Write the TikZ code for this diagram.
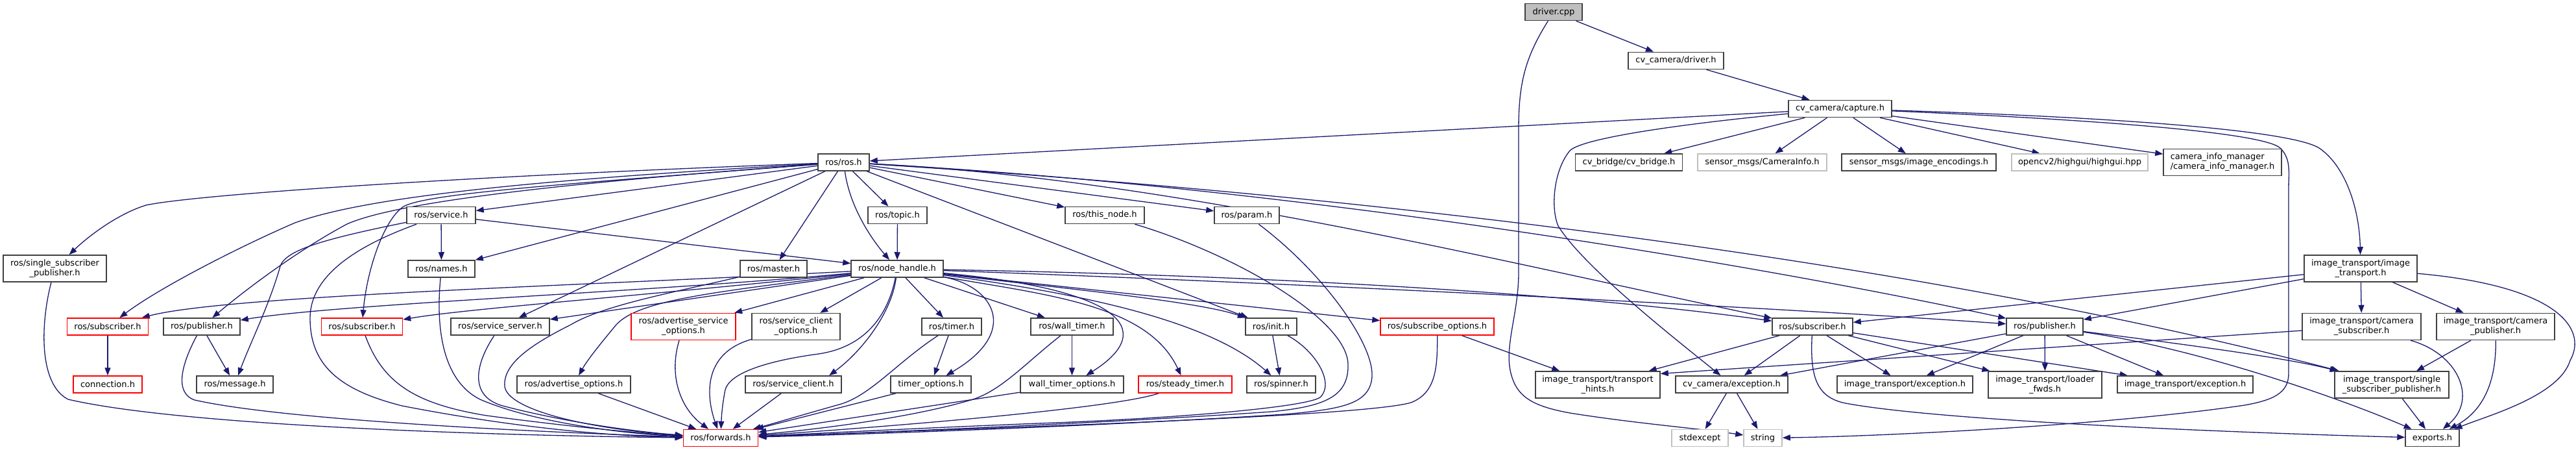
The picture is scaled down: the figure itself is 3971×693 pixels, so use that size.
\documentclass[tikz,border=0pt]{standalone}
\usepackage{fontspec}
\setmainfont{DejaVu Sans}
\usetikzlibrary{arrows.meta}
\definecolor{mblue}{HTML}{191970}
\definecolor{bdr}{HTML}{404040}
\definecolor{gbd}{HTML}{BFBFBF}
\pgfdeclarelayer{bg}
\pgfsetlayers{bg,main}
\begin{document}
\begin{tikzpicture}[x=1pt,y=-1pt,
 bx/.style={draw=bdr, line width=1.5pt, inner sep=2pt, minimum height=26pt, align=center, font=\fontsize{13}{15}\selectfont, text=black, fill=white},
 two/.style={minimum height=41pt},
 rb/.style={bx, draw=red},
 gb/.style={bx, draw=gbd},
 db/.style={bx, fill=gbd},
 ln/.style={draw=mblue, line width=1.3pt, -{Triangle[length=12pt,width=9pt]}}]
\useasboundingbox (0,0) rectangle (3971,693);
% nodes
\node[db, minimum width=88pt] (drv) at (2395,18.5) {driver.cpp};
\node[bx, minimum width=147pt] (dh) at (2583.5,93.5) {cv\_camera/driver.h};
\node[bx, minimum width=159pt] (cap) at (2836.5,167.5) {cv\_camera/capture.h};
\node[bx, minimum width=79pt] (ros) at (1300.5,250) {ros/ros.h};
\node[bx, minimum width=165pt] (cvb) at (2511,250) {cv\_bridge/cv\_bridge.h};
\node[gb, minimum width=199pt] (caminfo) at (2716.5,250) {sensor\_msgs/CameraInfo.h};
\node[bx, minimum width=238pt] (enc) at (2958,250) {sensor\_msgs/image\_encodings.h};
\node[gb, minimum width=210pt] (hg) at (3206,250) {opencv2/highgui/highgui.hpp};
\node[bx, two, minimum width=182pt, align=left] (cim) at (3426,250) {camera\_info\_manager\\/camera\_info\_manager.h};
\node[bx, minimum width=106pt] (svc) at (680,331.5) {ros/service.h};
\node[bx, minimum width=91pt] (topic) at (1383.5,331.5) {ros/topic.h};
\node[bx, minimum width=122pt] (thisnode) at (1703,331.5) {ros/this\_node.h};
\node[bx, minimum width=100pt] (param) at (1922,331.5) {ros/param.h};
\node[bx, two, minimum width=159pt] (ssp) at (84.5,413.5) {ros/single\_subscriber\\\_publisher.h};
\node[bx, minimum width=103pt] (names) at (680.5,414) {ros/names.h};
\node[bx, minimum width=103pt] (master) at (1192.5,414) {ros/master.h};
\node[bx, minimum width=142pt] (nh) at (1383,414) {ros/node\_handle.h};
\node[bx, two, minimum width=174pt] (itr) at (3639,413.5) {image\_transport/image\\\_transport.h};
\node[rb, minimum width=125pt] (subL1) at (166,503) {ros/subscriber.h};
\node[bx, minimum width=118pt] (pubL) at (311,503) {ros/publisher.h};
\node[rb, minimum width=125pt] (subL2) at (558,503) {ros/subscriber.h};
\node[bx, minimum width=152pt] (ss) at (771,503) {ros/service\_server.h};
\node[rb, two, minimum width=161pt] (aso) at (1053.5,503) {ros/advertise\_service\\\_options.h};
\node[bx, two, minimum width=136pt] (sco) at (1227,503) {ros/service\_client\\\_options.h};
\node[bx, minimum width=92pt] (timer) at (1467,503) {ros/timer.h};
\node[bx, minimum width=127pt] (wt) at (1652.5,503) {ros/wall\_timer.h};
\node[bx, minimum width=79pt] (init) at (1959.5,503) {ros/init.h};
\node[rb, minimum width=175pt] (so) at (2215.5,503) {ros/subscribe\_options.h};
\node[bx, minimum width=124pt] (subR) at (2794,503) {ros/subscriber.h};
\node[bx, minimum width=118pt] (pubR) at (3152,503) {ros/publisher.h};
\node[bx, two, minimum width=183pt] (csub) at (3640.5,503) {image\_transport/camera\\\_subscriber.h};
\node[bx, two, minimum width=182pt] (cpub) at (3847,503) {image\_transport/camera\\\_publisher.h};
\node[rb, minimum width=106pt] (conn) at (166,592) {connection.h};
\node[bx, minimum width=118pt] (msg) at (362,592) {ros/message.h};
\node[bx, minimum width=175pt] (ao) at (884.5,592) {ros/advertise\_options.h};
\node[bx, minimum width=148pt] (sc) at (1223,592) {ros/service\_client.h};
\node[bx, minimum width=124pt] (to) at (1435,592) {timer\_options.h};
\node[bx, minimum width=159pt] (wto) at (1652.5,592) {wall\_timer\_options.h};
\node[rb, minimum width=144pt] (st) at (1827,592) {ros/steady\_timer.h};
\node[bx, minimum width=106pt] (spin) at (1975,592) {ros/spinner.h};
\node[bx, two, minimum width=192pt] (th) at (2463,592.5) {image\_transport/transport\\\_hints.h};
\node[bx, minimum width=173pt] (cvexc) at (2669.5,592) {cv\_camera/exception.h};
\node[bx, minimum width=209pt] (itexc1) at (2936.5,592) {image\_transport/exception.h};
\node[bx, two, minimum width=175pt] (lf) at (3152.5,592.5) {image\_transport/loader\\\_fwds.h};
\node[bx, minimum width=209pt] (itexc2) at (3368.5,592) {image\_transport/exception.h};
\node[bx, two, minimum width=176pt] (itssp) at (3687,592.5) {image\_transport/single\\\_subscriber\_publisher.h};
\node[rb, minimum width=115pt] (fwd) at (1111,674.5) {ros/forwards.h};
\node[gb, minimum width=87pt] (stdexc) at (2620.5,674.5) {stdexcept};
\node[gb, minimum width=59pt] (str) at (2717.5,674.5) {string};
\node[bx, minimum width=83pt] (exp) at (3749.5,674.5) {exports.h};
\begin{pgfonlayer}{bg}
\fill[white] (0,0) rectangle (3971,693);
% driver / capture
\draw[ln] (drv) -- (dh);
\draw[ln] (drv) .. controls (2350,90) and (2341,130) .. (2341,200) -- (2341,420) .. controls (2341,480) and (2320,530) .. (2328,570) .. controls (2336,610) and (2360,625) .. (2420,636) .. controls (2520,652) and (2620,660) .. (str);
\draw[ln] (dh) -- (cap);
\draw[ln] (cap) -- (ros);
\draw[ln] (cap) -- (cvb);
\draw[ln] (cap) -- (caminfo);
\draw[ln] (cap) -- (enc);
\draw[ln] (cap) -- (hg);
\draw[ln] (cap) -- (cim);
\draw[ln] (cap) .. controls (3250,180) and (3530,200) .. (3575,228) .. controls (3615,255) and (3637,320) .. (itr);
\draw[ln] (cap) .. controls (3250,185) and (3490,205) .. (3515,228) .. controls (3532,245) and (3528,265) .. (3528,290) -- (3528,575) .. controls (3528,605) and (3505,616) .. (3460,624) .. controls (3250,655) and (2900,672) .. (str);
\draw[ln] (cap) .. controls (2600,190) and (2440,212) .. (2420,232) .. controls (2395,262) and (2390,320) .. (2402,348) .. controls (2440,410) and (2580,520) .. (cvexc);
% ros.h
\draw[ln] (ros) .. controls (700,272) and (300,300) .. (225,316) .. controls (180,330) and (135,365) .. (ssp);
\draw[ln] (ros) .. controls (800,278) and (560,305) .. (455,343) .. controls (380,375) and (250,440) .. (subL1);
\draw[ln] (ros) .. controls (850,283) and (610,312) .. (535,345) .. controls (460,385) and (380,445) .. (pubL);
\draw[ln] (ros) .. controls (850,285) and (660,298) .. (622,318) .. controls (590,340) and (565,420) .. (subL2);
\draw[ln] (ros) -- (svc);
\draw[ln] (ros) -- (names);
\draw[ln] (ros) -- (ss);
\draw[ln] (ros) -- (master);
\draw[ln] (ros) .. controls (1310,320) and (1345,370) .. (nh);
\draw[ln] (ros) -- (topic);
\draw[ln] (ros) -- (init);
\draw[ln] (ros) -- (thisnode);
\draw[ln] (ros) -- (param);
\draw[ln] (ros) .. controls (1800,275) and (2300,400) .. (subR);
\draw[ln] (ros) .. controls (1950,285) and (2650,395) .. (pubR);
\draw[ln] (ros) .. controls (2100,300) and (2950,400) .. (itssp);
% service.h etc
\draw[ln] (svc) -- (names);
\draw[ln] (svc) -- (nh);
\draw[ln] (svc) .. controls (500,368) and (440,385) .. (432,410) .. controls (415,470) and (385,530) .. (msg);
\draw[ln] (svc) .. controls (560,375) and (478,420) .. (478,490) .. controls (478,560) and (520,600) .. (620,625) .. controls (800,660) and (950,672) .. (fwd);
\draw[ln] (names) .. controls (672,500) and (680,585) .. (740,615) .. controls (820,650) and (960,668) .. (fwd);
\draw[ln] (master) .. controls (1040,450) and (930,470) .. (880,500) .. controls (820,530) and (775,560) .. (778,595) .. controls (782,630) and (900,660) .. (fwd);
\draw[ln] (topic) -- (nh);
\draw[ln] (thisnode) .. controls (1900,390) and (2075,490) .. (2078,560) .. controls (2080,612) and (2040,626) .. (1960,634) .. controls (1700,652) and (1350,666) .. (fwd);
\draw[ln] (param) .. controls (2040,420) and (2118,530) .. (2115,580) .. controls (2112,622) and (2070,630) .. (1980,638) .. controls (1720,655) and (1360,668) .. (fwd);
\draw[ln] (init) .. controls (2028,540) and (2058,590) .. (2035,612) .. controls (2010,628) and (1800,645) .. (1600,652) .. controls (1400,660) and (1250,668) .. (fwd);
\draw[ln] (init) -- (spin);
\draw[ln] (so) .. controls (2216,565) and (2214,605) .. (2175,620) .. controls (2100,642) and (1500,660) .. (fwd);
\draw[ln] (so) -- (th);
% node_handle
\draw[ln] (nh) .. controls (900,440) and (350,455) .. (subL1);
\draw[ln] (nh) .. controls (1000,450) and (520,468) .. (pubL);
\draw[ln] (nh) .. controls (1000,455) and (720,475) .. (subL2);
\draw[ln] (nh) -- (ss);
\draw[ln] (nh) -- (aso);
\draw[ln] (nh) -- (sco);
\draw[ln] (nh) .. controls (1100,450) and (985,462) .. (950,500) .. controls (925,530) and (905,555) .. (ao);
\draw[ln] (nh) .. controls (1375,480) and (1330,540) .. (sc.14);
\draw[ln] (nh) .. controls (1368,490) and (1330,535) .. (1262,545) .. controls (1180,556) and (1125,575) .. (1118,600) .. controls (1113,625) and (1112,645) .. (fwd);
\draw[ln] (nh) -- (timer);
\draw[ln] (nh) -- (wt);
\draw[ln] (nh) .. controls (1530,440) and (1575,510) .. (to);
\draw[ln] (nh) .. controls (1720,445) and (1790,505) .. (wto);
\draw[ln] (nh) .. controls (1620,455) and (1770,470) .. (st);
\draw[ln] (nh) .. controls (1650,450) and (1860,490) .. (spin);
\draw[ln] (nh) .. controls (1650,445) and (1850,465) .. (init);
\draw[ln] (nh) -- (so);
\draw[ln] (nh) .. controls (2000,425) and (2450,455) .. (subR);
\draw[ln] (nh) .. controls (2100,440) and (2800,478) .. (pubR);
% left group
\draw[ln] (subL1) -- (conn);
\draw[ln] (pubL) -- (msg);
\draw[ln] (pubL) .. controls (280,560) and (268,605) .. (300,616) .. controls (450,650) and (900,668) .. (fwd);
\draw[ln] (ssp) .. controls (62,500) and (60,592) .. (105,615) .. controls (300,660) and (850,672) .. (fwd);
\draw[ln] (subL2) .. controls (590,590) and (640,622) .. (750,640) .. controls (900,660) and (1000,668) .. (fwd);
\draw[ln] (ss) .. controls (733,560) and (722,610) .. (775,625) .. controls (870,650) and (980,665) .. (fwd);
\draw[ln] (ao) -- (fwd);
\draw[ln] (aso) .. controls (1030,580) and (1050,630) .. (fwd);
\draw[ln] (sco) .. controls (1080,545) and (1090,615) .. (fwd);
\draw[ln] (sc) -- (fwd);
\draw[ln] (timer) -- (to);
\draw[ln] (timer) .. controls (1380,560) and (1340,612) .. (1290,624) .. controls (1240,638) and (1200,650) .. (fwd);
\draw[ln] (wt) -- (wto);
\draw[ln] (wt) .. controls (1580,560) and (1545,600) .. (1500,615) .. controls (1400,645) and (1250,662) .. (fwd);
\draw[ln] (to) -- (fwd);
\draw[ln] (wto) -- (fwd);
\draw[ln] (st) .. controls (1720,628) and (1400,655) .. (fwd);
% right group
\draw[ln] (subR) -- (cvexc);
\draw[ln] (subR) -- (itexc1);
\draw[ln] (subR) -- (lf);
\draw[ln] (subR) -- (itexc2);
\draw[ln] (subR) -- (th);
\draw[ln] (subR) .. controls (2790,580) and (2800,612) .. (2845,621) .. controls (3000,650) and (3500,668) .. (exp);
\draw[ln] (pubR) -- (cvexc);
\draw[ln] (pubR) -- (itexc1);
\draw[ln] (pubR) -- (lf);
\draw[ln] (pubR) -- (itexc2);
\draw[ln] (pubR) .. controls (3350,528) and (3520,550) .. (itssp);
\draw[ln] (pubR) .. controls (3380,535) and (3600,610) .. (exp);
\draw[ln] (cvexc) -- (stdexc);
\draw[ln] (cvexc) -- (str);
\draw[ln] (itr) -- (subR);
\draw[ln] (itr) -- (pubR);
\draw[ln] (itr) -- (csub);
\draw[ln] (itr) -- (cpub);
\draw[ln] (itr) .. controls (3940,440) and (3990,505) .. (3962,555) .. controls (3945,610) and (3835,640) .. (exp);
\draw[ln] (csub) -- (th.10);
\draw[ln] (csub) .. controls (3790,545) and (3820,615) .. (exp);
\draw[ln] (cpub) -- (itssp);
\draw[ln] (cpub) .. controls (3848,585) and (3830,632) .. (exp);
\draw[ln] (itssp) -- (exp);
\end{pgfonlayer}
\end{tikzpicture}
\end{document}
